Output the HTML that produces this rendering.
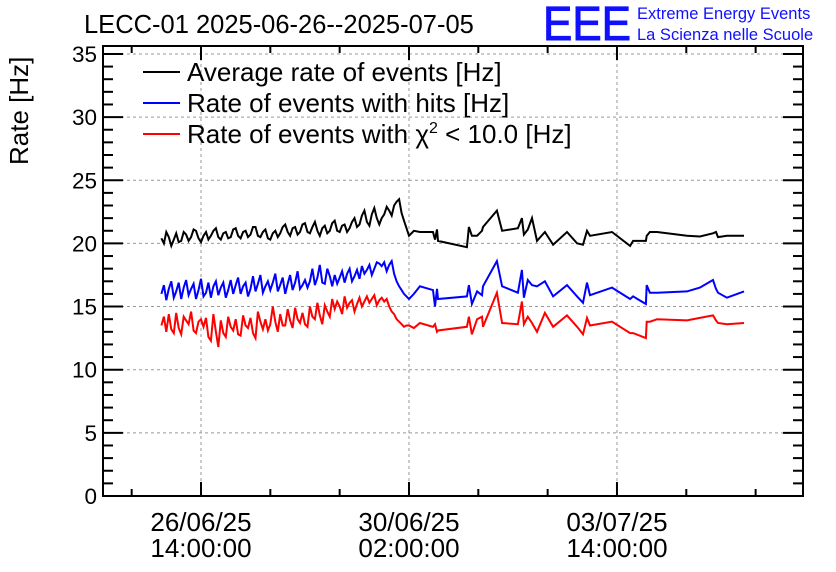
<!DOCTYPE html>
<html><head><meta charset="utf-8"><style>
body{margin:0;background:#fff;}
svg{display:block;font-family:"Liberation Sans",sans-serif;}
</style></head><body>
<svg id="chart" width="836" height="572">
<rect width="836" height="572" fill="#fff"/>
<text x="84" y="33" font-size="25.5">LECC-01 2025-06-26--2025-07-05</text>
<text x="543" y="40" font-size="48" fill="#1010ff" stroke="#1010ff" stroke-width="1" textLength="88" lengthAdjust="spacingAndGlyphs">EEE</text>
<text x="637" y="19" font-size="16.5" fill="#1010ff">Extreme Energy Events</text>
<text x="637" y="40" font-size="16.5" fill="#1010ff">La Scienza nelle Scuole</text>
<text transform="translate(28,165) rotate(-90)" font-size="26">Rate [Hz]</text>
<g id="grid"></g><g id="axes"></g><g id="series"></g>
<g id="legend">
<line x1="143" x2="180" y1="72" y2="72" stroke="#000" stroke-width="2"/>
<text x="187" y="81" font-size="26">Average rate of events [Hz]</text>
<line x1="143" x2="180" y1="103" y2="103" stroke="#0000ff" stroke-width="2"/>
<text x="187" y="112" font-size="26">Rate of events with hits [Hz]</text>
<line x1="143" x2="180" y1="134" y2="134" stroke="#ff0000" stroke-width="2"/>
<text x="187" y="143" font-size="26">Rate of events with χ<tspan font-size="16" dy="-10">2</tspan><tspan dy="10"> &lt; 10.0 [Hz]</tspan></text>
</g>
</svg>
<script>
const denseTimes=[-2,-1,0,1,2,3,4,5,6,7,8,9,10,11,12,13,14,15,16,17,18,19,20,21,22,23,24,25,26,27,28,29,30,31,32,33,34,35,36,37,38,39,40,41,42,43,44,45,46,47,48,49,50,51,52,53,54,55,56,57,58,59,60,61,62,63,64,65,66,67,68,69,70,71,72,73,74,75,76,77,78,79,80,81,82,83,84,85,86,87,88,89,90,91,92,93,94,95,96,97,98];
const sparseTimes=[100,102.4,107.7,108.5,109.3,109.7,121.4,122.2,123.4,125.5,127.5,127.9,133.5,135.6,142,143.6,144.4,146,147.7,149.7,152.9,156.2,161.8,165.9,168.3,169.9,171.1,180,187.3,188.5,193.7,194,195.3,198.2,210.3,215.5,220.8,222,222.8,226.4,233.3];
const blackDense=[20.4,20.0,20.9,20.5,19.8,20.3,20.8,20.1,20.2,20.9,
20.7,20.2,20.5,21.1,21.0,20.4,20.1,20.6,20.9,20.3,
20.6,21.0,21.2,20.5,20.3,20.8,20.9,20.4,20.5,21.1,
21.2,20.6,20.4,20.9,21.0,20.5,20.7,21.3,21.3,20.6,
20.5,20.9,21.1,20.4,20.3,20.8,21.0,20.5,20.8,21.3,
21.5,20.9,20.6,21.2,21.3,20.7,20.9,21.5,21.6,20.9,
20.8,21.3,21.7,21.0,20.6,21.2,21.4,20.8,21.0,21.6,
21.8,21.0,20.9,21.4,21.5,20.9,21.2,21.7,22.0,21.3,
21.5,22.2,22.6,21.7,21.4,22.3,22.8,22.0,21.5,22.0,
22.3,22.9,22.6,22.2,23.0,23.3,23.5,22.4,21.8,21.2,
20.6];
const blackSparse=[21.0,20.9,20.9,20.3,21.1,20.2,19.7,21.3,20.6,20.6,21.0,21.3,22.6,21.0,21.2,22.0,20.7,21.1,22.0,20.2,20.9,19.9,20.9,20.0,19.9,21.0,20.6,20.9,19.8,20.2,20.2,20.6,20.9,20.9,20.6,20.55,20.8,20.9,20.5,20.6,20.6];
const blueDense=[16.0,16.7,15.5,16.4,17.0,15.7,16.2,16.9,15.6,16.5,
17.1,15.9,16.4,16.8,15.6,16.3,17.2,15.8,16.1,16.9,
15.7,16.6,17.0,15.9,16.5,16.9,15.7,16.3,17.1,16.0,
16.7,17.3,16.0,16.6,16.9,15.8,16.4,17.4,16.2,16.8,
17.5,16.1,16.6,17.0,16.3,16.9,17.6,16.2,16.7,17.3,
16.0,16.8,17.5,16.3,16.9,17.8,16.4,16.7,17.1,16.5,
17.0,18.0,16.7,17.3,18.3,16.9,16.8,18.0,17.4,16.6,
17.5,16.8,17.3,17.8,16.9,17.6,18.0,17.0,17.4,17.9,
17.2,18.2,17.6,17.9,18.3,17.5,18.0,18.5,18.4,18.2,
18.5,17.8,18.3,18.6,17.6,17.0,16.6,16.3,16.0,15.8,
15.6];
const blueSparse=[16.0,16.6,16.3,15.0,16.4,15.6,15.8,16.7,15.2,16.2,15.9,16.6,18.6,16.6,16.1,17.9,15.7,17.1,16.7,16.6,17.0,15.8,16.7,15.8,15.3,16.9,15.9,16.5,15.6,15.8,15.2,16.7,16.1,16.1,16.2,16.5,17.1,16.4,16.1,15.7,16.2];
const redDense=[13.5,14.2,13.0,14.4,13.2,12.9,14.5,13.3,12.8,14.2,
13.9,13.6,14.6,13.1,12.9,13.8,14.0,13.4,14.1,12.6,
12.3,14.4,13.0,11.8,13.9,12.9,12.6,14.2,13.4,13.1,
14.0,12.8,12.7,14.3,13.5,13.3,14.1,12.9,12.5,14.6,
13.8,13.2,14.0,13.1,13.6,15.0,13.8,13.0,14.4,13.5,
13.5,14.8,13.9,13.3,14.9,14.0,13.7,14.5,13.6,13.4,
15.0,14.2,14.0,15.3,14.3,13.6,15.1,14.6,14.2,15.6,
14.8,15.4,15.0,14.4,15.8,14.9,15.3,15.5,14.6,15.2,
15.7,15.0,15.4,15.8,15.3,15.6,15.9,15.1,15.5,15.7,
15.4,15.6,15.0,14.6,14.4,14.0,13.8,13.6,13.4,13.5,
13.5];
const redSparse=[13.3,13.7,13.4,13.6,13.0,13.1,13.4,14.2,12.8,14.0,14.2,13.4,16.1,13.7,13.6,15.4,13.6,14.2,13.7,13.0,14.5,13.4,14.3,13.4,12.8,14.1,13.5,13.8,12.9,12.9,12.5,13.8,13.8,14.0,13.9,14.1,14.3,13.9,13.7,13.6,13.7];
const yTicks=[0,5,10,15,20,25,30,35];
const xTickHours=[14,98,182];
const xTickLabels=[["26/06/25","14:00:00"],["30/06/25","02:00:00"],["03/07/25","14:00:00"]];

const NS="http://www.w3.org/2000/svg";
const L=103,R=803,T=46,B=496;
const xs=h=>201+(h-14)*2.476;
const ys=v=>496-v*12.63;
function mk(tag,attrs,parent){const e=document.createElementNS(NS,tag);for(const k in attrs)e.setAttribute(k,attrs[k]);parent.appendChild(e);return e;}
const grid=document.getElementById('grid'),axes=document.getElementById('axes'),series=document.getElementById('series');
yTicks.forEach(v=>{if(v===0)return;const g=mk('line',{x1:L,x2:R,y1:ys(v),y2:ys(v),stroke:'#999','stroke-dasharray':'3,3','stroke-width':1},grid);

});
xTickHours.forEach(h=>{const g=mk('line',{x1:xs(h),x2:xs(h),y1:T,y2:B,stroke:'#999','stroke-dasharray':'3,3','stroke-width':1},grid);

});
const fr=mk('rect',{x:L,y:T,width:R-L,height:B-T,fill:'none',stroke:'#000','stroke-width':2},axes);


for(let v=0;v<=35;v++){const len=v%5===0?20:10;
mk('line',{x1:L,x2:L+len,y1:ys(v),y2:ys(v),stroke:'#000','stroke-width':2},axes);
mk('line',{x1:R,x2:R-len,y1:ys(v),y2:ys(v),stroke:'#000','stroke-width':2},axes);}
yTicks.forEach(v=>{const t=mk('text',{x:97,y:ys(v)+8,'font-size':22.5,'text-anchor':'end'},axes);t.textContent=v;

});
for(let k=-1;k<=9;k++){const h=14+k*28;const x=xs(h);if(x<L||x>R)continue;const len=k%3===0?14:7;
mk('line',{x1:x,x2:x,y1:B,y2:B-len,stroke:'#000','stroke-width':2},axes);
mk('line',{x1:x,x2:x,y1:T,y2:T+len,stroke:'#000','stroke-width':2},axes);}
xTickHours.forEach((h,i)=>{xTickLabels[i].forEach((s,j)=>{const t=mk('text',{x:xs(h),y:531+j*26,'font-size':26,'text-anchor':'middle'},axes);t.textContent=s;

});});
const times=denseTimes.concat(sparseTimes);
const sets=[[blackDense.concat(blackSparse),'#000','average-rate-line'],[blueDense.concat(blueSparse),'#0000ff','hits-rate-line'],[redDense.concat(redSparse),'#ff0000','chi2-rate-line']];
sets.forEach(([vals,c,name])=>{const n=Math.min(vals.length,times.length);const d=vals.slice(0,n).map((v,i)=>(i?'L':'M')+xs(times[i]).toFixed(1)+','+ys(v).toFixed(1)).join('');
const p=mk('path',{d:d,fill:'none',stroke:c,'stroke-width':2,'stroke-linejoin':'miter'},series);

});
</script>
</body></html>
